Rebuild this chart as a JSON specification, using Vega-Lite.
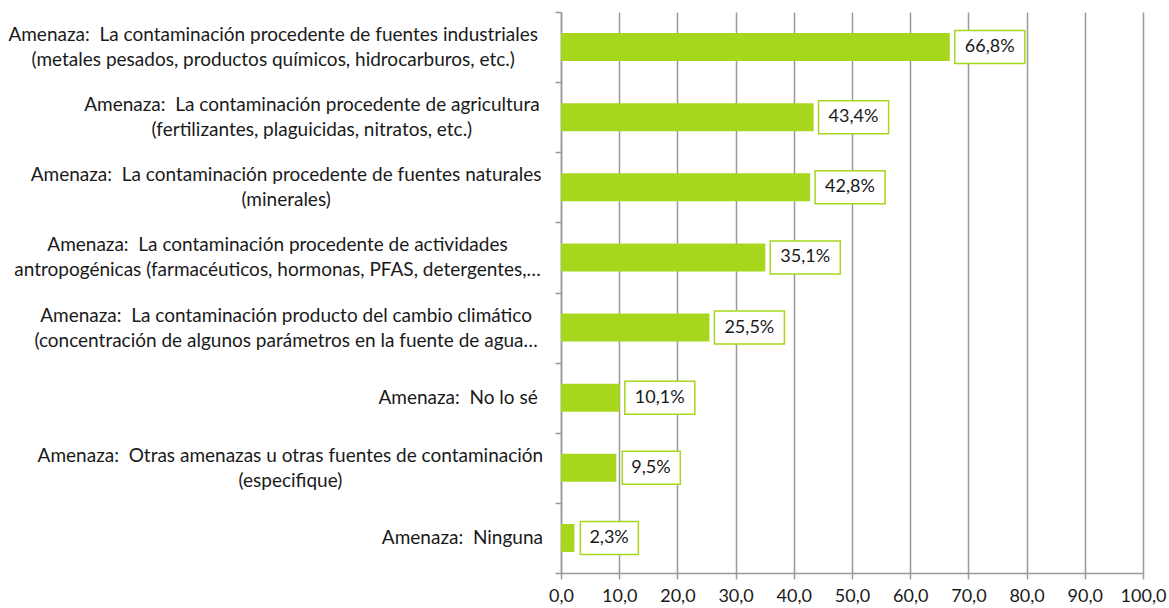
{
  "$schema": "https://vega.github.io/schema/vega-lite/v6.json",
  "width": 582,
  "height": 561,
  "autosize": "none",
  "padding": {"left": 561, "top": 12, "right": 26, "bottom": 35},
  "background": "white",
  "config": {"view": {"stroke": null}},
  "data": {"values": [
    {"amenaza": "Amenaza:\u00a0 La contaminación procedente de fuentes industriales|(metales pesados, productos químicos, hidrocarburos, etc.)", "pct": 66.8},
    {"amenaza": "Amenaza:\u00a0 La contaminación procedente de agricultura|(fertilizantes, plaguicidas, nitratos, etc.)", "pct": 43.4},
    {"amenaza": "Amenaza:\u00a0 La contaminación procedente de fuentes naturales|(minerales)", "pct": 42.8},
    {"amenaza": "Amenaza:\u00a0 La contaminación procedente de actividades|antropogénicas (farmacéuticos, hormonas, PFAS, detergentes,…", "pct": 35.1},
    {"amenaza": "Amenaza:\u00a0 La contaminación producto del cambio climático|(concentración de algunos parámetros en la fuente de agua…", "pct": 25.5},
    {"amenaza": "Amenaza:\u00a0 No lo sé", "pct": 10.1},
    {"amenaza": "Amenaza:\u00a0 Otras amenazas u otras fuentes de contaminación|(especifique)", "pct": 9.5},
    {"amenaza": "Amenaza:\u00a0 Ninguna", "pct": 2.3}
  ]},
  "transform": [
    {"calculate": "replace(format(datum.pct, '.1f'), '.', ',') + '%'", "as": "etiqueta"}
  ],
  "encoding": {
    "y": {
      "field": "amenaza",
      "type": "nominal",
      "title": null,
      "sort": [
        "Amenaza:\u00a0 La contaminación procedente de fuentes industriales|(metales pesados, productos químicos, hidrocarburos, etc.)",
        "Amenaza:\u00a0 La contaminación procedente de agricultura|(fertilizantes, plaguicidas, nitratos, etc.)",
        "Amenaza:\u00a0 La contaminación procedente de fuentes naturales|(minerales)",
        "Amenaza:\u00a0 La contaminación procedente de actividades|antropogénicas (farmacéuticos, hormonas, PFAS, detergentes,…",
        "Amenaza:\u00a0 La contaminación producto del cambio climático|(concentración de algunos parámetros en la fuente de agua…",
        "Amenaza:\u00a0 No lo sé",
        "Amenaza:\u00a0 Otras amenazas u otras fuentes de contaminación|(especifique)",
        "Amenaza:\u00a0 Ninguna"
      ],
      "scale": {"paddingInner": 0, "paddingOuter": 0},
      "axis": {
        "labelExpr": "split(datum.label, '|')",
        "labelAlign": "center",
        "labelBaseline": "middle",
        "labelPadding": {"expr": "20 + 4.3 * max(length(split(datum.value, '|')[0]), length(peek(split(datum.value, '|'))))"},
        "labelOffset": {"expr": "length(split(datum.value, '|')) > 1 ? -12.5 : 0"},
        "labelFont": "Lato",
        "labelFontSize": 19,
        "labelColor": "#1a1a1a",
        "labelLineHeight": 25,
        "labelLimit": 0,
        "tickBand": "extent",
        "tickSize": 6,
        "tickWidth": 1.5,
        "tickColor": "#999999",
        "domainColor": "#999999",
        "domainWidth": 1.5,
        "grid": false
      }
    }
  },
  "layer": [
    {
      "mark": {"type": "bar", "color": "#A6D71C", "size": 28},
      "encoding": {
        "x": {
          "field": "pct",
          "type": "quantitative",
          "title": null,
          "scale": {"domain": [0, 100], "nice": false},
          "axis": {
            "values": [0, 10, 20, 30, 40, 50, 60, 70, 80, 90, 100],
            "labelExpr": "replace(format(datum.value, '.1f'), '.', ',')",
            "grid": true,
            "gridColor": "#999999",
            "gridWidth": 1.5,
            "domainColor": "#999999",
            "domainWidth": 1.5,
            "tickColor": "#999999",
            "tickWidth": 1.5,
            "tickSize": 6,
            "labelFont": "Lato",
            "labelFontSize": 18,
            "labelColor": "#1a1a1a",
            "labelPadding": 8,
            "labelFlush": false
          }
        }
      }
    },
    {
      "transform": [{"filter": "datum.pct >= 10"}],
      "mark": {"type": "bar", "fill": "white", "stroke": "#A6D71C", "strokeWidth": 1.5, "size": 33, "xOffset": 5, "x2Offset": 75},
      "encoding": {
        "x": {"field": "pct", "type": "quantitative"},
        "x2": {"field": "pct"}
      }
    },
    {
      "transform": [{"filter": "datum.pct < 10"}],
      "mark": {"type": "bar", "fill": "white", "stroke": "#A6D71C", "strokeWidth": 1.5, "size": 33, "xOffset": 6, "x2Offset": 64},
      "encoding": {
        "x": {"field": "pct", "type": "quantitative"},
        "x2": {"field": "pct"}
      }
    },
    {
      "mark": {"type": "text", "align": "left", "baseline": "middle", "dx": 15, "font": "Lato", "fontSize": 18, "color": "#1a1a1a"},
      "encoding": {
        "x": {"field": "pct", "type": "quantitative"},
        "text": {"field": "etiqueta"}
      }
    }
  ]
}
